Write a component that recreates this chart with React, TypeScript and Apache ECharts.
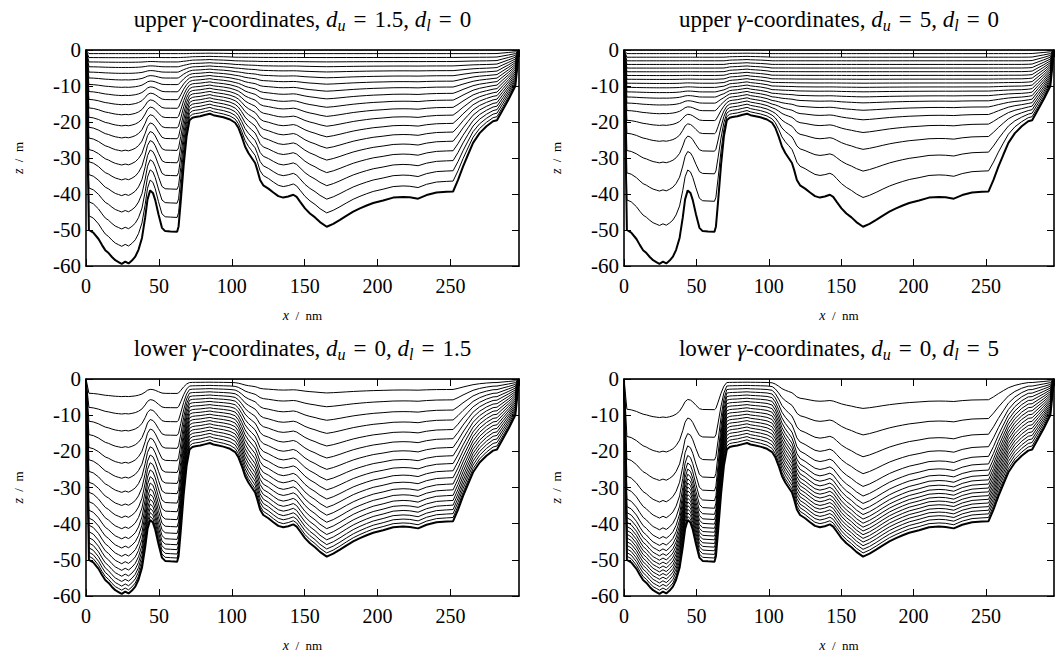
import React, { useEffect, useRef } from "react";
import * as echarts from "echarts";

// Bathymetry of the transect (x in nm, water depth in m)
const bathyX = [
  0, 2, 5, 8.6, 11, 13.2, 15.5, 17.8, 20.1, 22.3, 24.5, 26.9, 29.2, 31.5, 33.8, 36, 38.4, 40.6, 42.2, 44,
  45.9, 47.5, 49.7, 52.1, 54.3, 58, 62.5, 63.5, 65, 67, 69, 71, 73, 75, 78.3, 82, 85, 87.4, 90.8, 94.2,
  98.8, 102.3, 104.5, 106.8, 109.1, 111.4, 113.7, 116, 117.5, 119.4, 121.6, 125.1, 128.5, 131.9, 135.3,
  138.7, 142.2, 144.5, 146.8, 150.2, 153.6, 157.1, 160.5, 165.1, 169.6, 174.2, 178.8, 183.3, 187.9, 192.5,
  197, 203.8, 210.7, 217.5, 222.1, 227.8, 233.6, 240.4, 247.3, 251.8, 255.2, 258.6, 262, 265.5, 270, 274.7,
  279.2, 281.9, 286, 290, 294.5, 297,
];
const bathyDepth = [
  0, 50.0, 50.7, 52.5, 54.2, 55.6, 56.4, 57.5, 58.4, 58.9, 59.4, 58.8, 59.3, 58.5, 57.4, 55.5, 52.2, 46.5, 41.5, 39.0,
  39.7, 41.7, 45.6, 49.4, 50.3, 50.4, 50.5, 49, 42, 32, 24, 19.5, 18.8, 18.6, 18.4, 18.0, 17.7, 18.1, 18.4, 18.7,
  19.3, 20.2, 21.6, 24, 26.8, 28.6, 30, 31.4, 33.3, 36.1, 37.6, 38.5, 39.6, 40.6, 41.0,
  40.7, 40.2, 40.8, 42.1, 44.0, 45.4, 46.5, 47.8, 49.1, 48.3, 47.2, 46.0, 44.9, 44.0, 43.2,
  42.5, 41.8, 41.0, 40.8, 40.9, 41.3, 40.3, 39.6, 39.4, 39.3, 36.1, 32.4, 29.1, 25.8, 23.1, 21.2,
  19.8, 19.5, 16.5, 13.6, 10.0, 0,
];

// Panel parameters (from the titles)
const panelKinds = ["upper", "upper", "lower", "lower"];
const duValues = [1.5, 5, 0, 0];
const dlValues = [0, 0, 1.5, 5];
const layerCount = 20;
const gammaDepth = 20;

const xTickStep = 50;
const zTicks = [0, -10, -20, -30, -40, -50, -60];

const FONT = "Liberation Serif, Times New Roman, serif";
const TICK_FS = 20;
const TITLE_FS = 23;

// Grid layout (pixels)
const grids = [
  { left: 86, top: 50, width: 433, height: 216 },
  { left: 624, top: 50, width: 430, height: 216 },
  { left: 86, top: 379, width: 433, height: 217 },
  { left: 624, top: 379, width: 430, height: 217 },
];

function gammaLevels(du: number, dl: number) {
  const N = layerCount;
  const sig: number[] = [];
  const be: number[] = [];
  for (let k = 0; k <= N; k++) {
    sig.push(k / N - 1);
    be.push(
      (Math.tanh(((dl + du) * k) / N - dl) + Math.tanh(dl)) / (Math.tanh(dl) + Math.tanh(du)) - 1
    );
  }
  const kk = du > 0 ? N : 1;
  return { sig, be, kk };
}

function interfaceZ(lv: { sig: number[]; be: number[]; kk: number }, H: number, k: number) {
  if (H <= 0) return 0;
  const dbe = lv.be[lv.kk] - lv.be[lv.kk - 1];
  const dsig = lv.sig[lv.kk] - lv.sig[lv.kk - 1];
  const alpha = Math.min((dbe - (gammaDepth / H) * dsig) / (dbe - dsig), 1);
  return H * (alpha * lv.sig[k] + (1 - alpha) * lv.be[k]);
}

function buildOption() {
  const xMax = bathyX[bathyX.length - 1];
  const xAxes: any[] = [];
  const yAxes: any[] = [];
  const series: any[] = [];
  const graphic: any[] = [];

  const frame = { color: "#000", width: 1.6 };
  const tick = { show: true, inside: true, length: 7, lineStyle: { color: "#000", width: 1 } };

  grids.forEach((g, p) => {
    xAxes.push({
      gridIndex: p,
      type: "value",
      min: 0,
      max: xMax,
      interval: xTickStep,
      position: "bottom",
      axisLine: { show: true, onZero: false, lineStyle: frame },
      axisTick: tick,
      axisLabel: {
        show: true,
        showMaxLabel: false,
        color: "#000",
        fontFamily: FONT,
        fontSize: TICK_FS,
        margin: 10,
      },
      splitLine: { show: false },
    });
    yAxes.push({
      gridIndex: p,
      type: "value",
      min: zTicks[zTicks.length - 1],
      max: zTicks[0],
      interval: 10,
      position: "left",
      axisLine: { show: true, onZero: false, lineStyle: frame },
      axisTick: tick,
      axisLabel: { show: true, color: "#000", fontFamily: FONT, fontSize: 21, margin: 5 },
      splitLine: { show: false },
    });
  });
  grids.forEach((g, p) => {
    xAxes.push({
      gridIndex: p,
      type: "value",
      min: 0,
      max: xMax,
      interval: xTickStep,
      position: "top",
      axisLine: { show: true, onZero: false, lineStyle: frame },
      axisTick: tick,
      axisLabel: { show: false },
      splitLine: { show: false },
    });
    yAxes.push({
      gridIndex: p,
      type: "value",
      min: zTicks[zTicks.length - 1],
      max: zTicks[0],
      interval: 10,
      position: "right",
      axisLine: { show: true, onZero: false, lineStyle: frame },
      axisTick: tick,
      axisLabel: { show: false },
      splitLine: { show: false },
    });
  });

  const titleRich = {
    n: { fontFamily: FONT, fontSize: TITLE_FS, lineHeight: 28, fill: "#000" },
    e: { fontFamily: FONT, fontSize: TITLE_FS, lineHeight: 28, fill: "#000", padding: [0, 8, 0, 8] },
    i: { fontFamily: FONT, fontSize: TITLE_FS, fontStyle: "italic", lineHeight: 28, fill: "#000" },
    s: {
      fontFamily: FONT,
      fontSize: 16,
      fontStyle: "italic",
      lineHeight: 17,
      verticalAlign: "bottom",
      fill: "#000",
    },
  };

  grids.forEach((g, p) => {
    const lv = gammaLevels(duValues[p], dlValues[p]);
    for (let k = layerCount; k >= 0; k--) {
      const data = bathyX.map((x, i) => [x, interfaceZ(lv, bathyDepth[i], k)]);
      series.push({
        type: "line",
        xAxisIndex: p,
        yAxisIndex: p,
        data,
        symbol: "none",
        showSymbol: false,
        silent: true,
        clip: true,
        z: k === 0 ? 4 : 3,
        lineStyle: { color: "#000", width: k === 0 ? 2 : 1 },
      });
    }

    const cx = g.left + g.width / 2;
    const duTxt = String(duValues[p]);
    const dlTxt = String(dlValues[p]);
    graphic.push({
      type: "text",
      x: cx,
      y: g.top - 31,
      silent: true,
      style: {
        text: `{n|${panelKinds[p]} }{i|γ}{n|-coordinates, }{i|d}{s|u}{e|=}{n|${duTxt}, }{i|d}{s|l}{e|=}{n|${dlTxt}}`,
        align: "center",
        verticalAlign: "middle",
        fill: "#000",
        rich: titleRich,
      },
    });
    graphic.push({
      type: "text",
      x: cx,
      y: g.top + g.height + 49,
      silent: true,
      style: {
        text: "{i|x}{n|  /  nm}",
        align: "center",
        verticalAlign: "middle",
        rich: {
          n: { fontFamily: FONT, fontSize: 13, fill: "#000" },
          i: { fontFamily: FONT, fontSize: 14, fontStyle: "italic", fill: "#000" },
        },
      },
    });
    graphic.push({
      type: "text",
      x: g.left - 68,
      y: g.top + g.height / 2,
      rotation: Math.PI / 2,
      silent: true,
      style: {
        text: "{i|z}{n|  /  m}",
        align: "center",
        verticalAlign: "middle",
        rich: {
          n: { fontFamily: FONT, fontSize: 13, fill: "#000" },
          i: { fontFamily: FONT, fontSize: 14, fontStyle: "italic", fill: "#000" },
        },
      },
    });
  });

  return {
    animation: false,
    backgroundColor: "#fff",
    grid: grids.map((g) => ({ ...g, containLabel: false })),
    xAxis: xAxes,
    yAxis: yAxes,
    series,
    graphic,
  };
}

export default function App() {
  const ref = useRef<HTMLDivElement>(null);
  useEffect(() => {
    if (!ref.current) return;
    const chart = echarts.init(ref.current, undefined, { renderer: "svg" });
    chart.setOption(buildOption());
    return () => chart.dispose();
  }, []);
  return (
    <div
      ref={ref}
      style={{ position: "fixed", left: 0, top: 0, width: 1056, height: 659, background: "#fff" }}
    />
  );
}
